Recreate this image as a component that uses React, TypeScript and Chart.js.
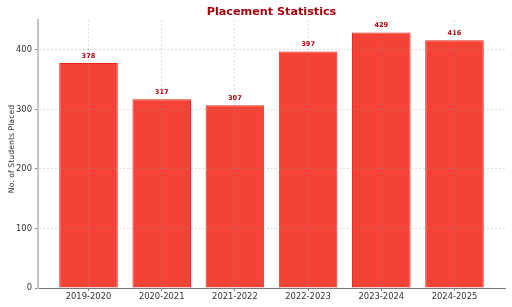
import React, { useEffect, useRef } from "react";
import { Chart, registerables } from "chart.js";

Chart.register(...registerables);

const categories = ["2019-2020", "2020-2021", "2021-2022", "2022-2023", "2023-2024", "2024-2025"];
const placed = [378, 317, 307, 397, 429, 416];
const yTicks = [0, 100, 200, 300, 400];
const chartTitle = "Placement Statistics";
const yAxisTitle = "No. of Students Placed";

const FONT = "'DejaVu Sans', sans-serif";

const labelsPlugin = {
  id: "customLabels",
  afterDraw(chart: any) {
    const ctx = chart.ctx;
    const ca = chart.chartArea;
    ctx.save();
    // title
    ctx.fillStyle = "#a30008";
    ctx.font = `bold 11.2px ${FONT}`;
    ctx.textAlign = "center";
    ctx.textBaseline = "middle";
    ctx.fillText(chartTitle, (ca.left + ca.right) / 2, 12);
    // y axis title
    ctx.save();
    ctx.translate(12, (ca.top + ca.bottom) / 2 - 5);
    ctx.rotate(-Math.PI / 2);
    ctx.fillStyle = "#333";
    ctx.font = `7.8px ${FONT}`;
    ctx.fillText(yAxisTitle, 0, 0);
    ctx.restore();
    // value labels
    const meta = chart.getDatasetMeta(0);
    ctx.fillStyle = "#b00010";
    ctx.font = `bold 6.6px ${FONT}`;
    ctx.textBaseline = "bottom";
    meta.data.forEach((bar: any, i: number) => {
      ctx.fillText(String(placed[i]), bar.x, bar.y - 3.5);
    });
    ctx.restore();
  },
};

export default function App() {
  const ref = useRef<HTMLCanvasElement>(null);
  useEffect(() => {
    if (!ref.current) return;
    const chart = new Chart(ref.current, {
      type: "bar",
      data: {
        datasets: [
          {
            data: placed.map((v, i) => ({ x: i, y: v })),
            backgroundColor: "rgb(244,67,54)",
            borderColor: "rgb(236,36,26)",
            borderWidth: 1,
            barPercentage: 0.8,
            categoryPercentage: 1.0,
          },
        ],
      },
      options: {
        responsive: false,
        animation: false,
        layout: { padding: { top: 20, right: 7, left: 0, bottom: 0 } },
        plugins: {
          legend: { display: false },
          tooltip: { enabled: false },
          title: { display: false },
        },
        scales: {
          x: {
            type: "linear",
            min: -0.69,
            max: 5.69,
            offset: false,
            z: 1,
            afterBuildTicks: (scale: any) => {
              scale.ticks = categories.map((_, i) => ({ value: i }));
            },
            afterFit: (scale: any) => {
              scale.height = 19;
            },
            ticks: {
              callback: (v: any) => categories[v as number],
              font: { family: FONT, size: 8.4 },
              color: "#333",
              padding: 1,
              maxRotation: 0,
              autoSkip: false,
            },
            grid: {
              offset: false,
              z: 1,
              color: "rgba(150,150,150,0.4)",
              tickColor: "#666",
              tickLength: 3,
              lineWidth: 0.8,
            },
            border: { display: true, z: 2, color: "#777", width: 1, dash: [2, 2] },
          } as any,
          y: {
            min: 0,
            max: 450,
            z: 1,
            afterBuildTicks: (scale: any) => {
              scale.ticks = yTicks.map((v) => ({ value: v }));
            },
            afterFit: (scale: any) => {
              scale.width = 38;
            },
            ticks: {
              font: { family: FONT, size: 8.4 },
              color: "#333",
              padding: 3,
            },
            grid: {
              z: 1,
              color: "rgba(150,150,150,0.4)",
              tickColor: "#666",
              tickLength: 3,
              lineWidth: 0.8,
            },
            border: { display: true, z: 2, color: "#c4c4c4", width: 2, dash: [2, 2] },
          } as any,
        },
      },
      plugins: [labelsPlugin],
    } as any);
    return () => chart.destroy();
  }, []);
  return (
    <div style={{ position: "absolute", left: 0, top: 0, width: 512, height: 307, background: "#fff" }}>
      <canvas ref={ref} width={512} height={307} />
    </div>
  );
}
